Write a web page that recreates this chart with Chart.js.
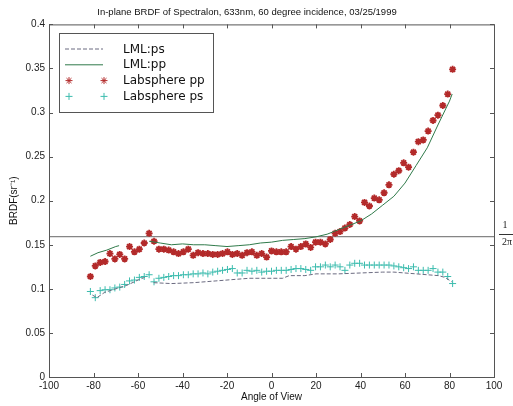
<!DOCTYPE html>
<html>
<head>
<meta charset="utf-8">
<script src="https://cdn.jsdelivr.net/npm/chart.js@4"></script>
<style>
  html, body { margin: 0; padding: 0; background: #fff; }
</style>
</head>
<body>
<canvas id="brdf" width="513" height="406"></canvas>
<script>
// view angles of the Labsphere measurements (deg)
const angles = [-81.4, -79.2, -77.0, -74.8, -72.6, -70.4, -68.2, -66.0, -63.8, -61.6,
    -59.4, -57.2, -55.0, -52.8, -50.6, -48.4, -46.2, -44.0, -41.8, -39.6,
    -37.4, -35.2, -33.0, -30.8, -28.6, -26.4, -24.2, -22.0, -19.8, -17.6,
    -15.4, -13.2, -11.0, -8.8, -6.6, -4.4, -2.2, 0, 2.2, 4.4,
    6.6, 8.8, 11.0, 13.2, 15.4, 17.6, 19.8, 22.0, 24.2, 26.4,
    28.6, 30.8, 33.0, 35.2, 37.4, 39.6, 41.8, 44.0, 46.2, 48.4,
    50.6, 52.8, 55.0, 57.2, 59.4, 61.6, 63.8, 66.0, 68.2, 70.4,
    72.6, 74.8, 77.0, 79.2, 81.4];

const labspherePP = [0.114, 0.126, 0.130, 0.131, 0.140, 0.134, 0.139, 0.134, 0.148, 0.142,
    0.145, 0.152, 0.163, 0.154, 0.145, 0.145, 0.144, 0.142, 0.140, 0.142,
    0.145, 0.138, 0.141, 0.140, 0.140, 0.139, 0.139, 0.140, 0.142, 0.139,
    0.140, 0.138, 0.141, 0.142, 0.138, 0.140, 0.136, 0.143, 0.142, 0.142,
    0.142, 0.148, 0.145, 0.148, 0.151, 0.147, 0.153, 0.153, 0.151, 0.156,
    0.163, 0.165, 0.169, 0.173, 0.182, 0.177, 0.198, 0.194, 0.203, 0.201,
    0.209, 0.218, 0.230, 0.234, 0.243, 0.238, 0.255, 0.267, 0.269, 0.279,
    0.291, 0.297, 0.308, 0.321, 0.349];

const labspherePS = [0.097, 0.090, 0.098, 0.099, 0.099, 0.101, 0.102, 0.105, 0.109, 0.110,
    0.113, 0.114, 0.116, 0.108, 0.112, 0.113, 0.114, 0.115, 0.115, 0.116,
    0.116, 0.117, 0.117, 0.118, 0.117, 0.119, 0.120, 0.121, 0.122, 0.123,
    0.118, 0.118, 0.121, 0.120, 0.121, 0.119, 0.120, 0.120, 0.121, 0.121,
    0.121, 0.122, 0.123, 0.123, 0.122, 0.121, 0.125, 0.125, 0.127, 0.125,
    0.127, 0.125, 0.121, 0.127, 0.129, 0.129, 0.127, 0.127, 0.127, 0.127,
    0.127, 0.127, 0.126, 0.125, 0.124, 0.123, 0.125, 0.121, 0.121, 0.121,
    0.123, 0.119, 0.119, 0.114, 0.106];

// LML model curves (null = gap in the curve)
const lmlPpAngles = [-81.4, -78, -74, -70, -68.5, -62, -55, -50, -45, -40, -35, -30, -25, -20,
    -15, -10, -5, 0, 5, 10, 15, 20, 25, 30, 35, 40, 45, 50, 55, 60, 65, 70, 75, 80, 81.2];
const lmlPpValues = [0.137, 0.141, 0.144, 0.148, 0.149, null, 0.154, 0.152, 0.150, 0.151, 0.150, 0.150, 0.149, 0.148,
    0.149, 0.150, 0.152, 0.153, 0.155, 0.156, 0.157, 0.159, 0.162, 0.167, 0.172, 0.177, 0.185, 0.195, 0.205, 0.220, 0.240, 0.260, 0.287, 0.313, 0.321];

const lmlPsAngles = [-80.5, -78.5, -75, -70, -65, -60, -57, -55, -53, -45, -35, -25, -20, -10,
    0, 5, 8, 15, 20, 30, 40, 50, 55, 60, 65, 70, 75, 78, 81];
const lmlPsValues = [0.093, 0.090, 0.096, 0.100, 0.104, 0.110, 0.113, null, 0.107, 0.106, 0.107, 0.109, 0.110, 0.112,
    0.112, 0.112, 0.115, 0.115, 0.117, 0.117, 0.118, 0.119, 0.119, 0.118, 0.117, 0.116, 0.115, 0.113, 0.108];

const lambertLevel = 1 / (2 * Math.PI);   // ideal Lambertian BRDF

const xTicks = [-100, -80, -60, -40, -20, 0, 20, 40, 60, 80, 100];
const yTicks = [0, 0.05, 0.1, 0.15, 0.2, 0.25, 0.3, 0.35, 0.4];
const yTickLabels = ['0', '0.05', '0.1', '0.15', '0.2', '0.25', '0.3', '0.35', '0.4'];


function toPoints(xs, ys) {
    return xs.map(function (x, i) {
        return { x: x, y: ys[i] };
    });
}


/* matlab style frame: box, inward ticks, legend box and 1/2pi label */
const matlabFrame = {
    id: 'matlabFrame',
    afterDraw(chart) {
        const ctx = chart.ctx;
        const area = chart.chartArea;
        const xs = chart.scales.x;
        const ys = chart.scales.y;

        ctx.save();
        ctx.strokeStyle = '#555';
        ctx.lineWidth = 1;
        ctx.strokeRect(area.left + 0.5, area.top + 0.5, area.right - area.left, area.bottom - area.top);

        ctx.beginPath();
        xTicks.forEach(function (v) {
            let px = Math.round(xs.getPixelForValue(v)) + 0.5;
            ctx.moveTo(px, area.bottom);
            ctx.lineTo(px, area.bottom - 4);
            ctx.moveTo(px, area.top);
            ctx.lineTo(px, area.top + 4);
        });
        yTicks.forEach(function (v) {
            let py = Math.round(ys.getPixelForValue(v)) + 0.5;
            ctx.moveTo(area.left, py);
            ctx.lineTo(area.left + 4, py);
            ctx.moveTo(area.right, py);
            ctx.lineTo(area.right - 4, py);
        });
        ctx.stroke();

        // legend
        const lx = 59.5, ly = 33.5, lw = 154, lh = 79;
        ctx.fillStyle = '#fff';
        ctx.fillRect(lx, ly, lw, lh);
        ctx.strokeStyle = '#555';
        ctx.strokeRect(lx, ly, lw, lh);

        ctx.font = '12px "DejaVu Sans"';
        ctx.textBaseline = 'middle';
        chart.data.datasets.forEach(function (ds, i) {
            if (ds.hideInLegend) return;
            let rowY = 49 + i * 15.8;
            ctx.save();
            if (ds.showLine) {
                ctx.strokeStyle = ds.borderColor;
                ctx.lineWidth = ds.borderWidth;
                ctx.setLineDash(ds.borderDash || []);
                ctx.beginPath();
                ctx.moveTo(65, rowY);
                ctx.lineTo(103, rowY);
                ctx.stroke();
            } else {
                ctx.strokeStyle = ds.pointBorderColor;
                let opts = { pointStyle: ds.pointStyle, radius: ds.pointRadius, borderWidth: ds.pointBorderWidth, rotation: 0 };
                Chart.helpers.drawPoint(ctx, opts, 69, rowY);
                Chart.helpers.drawPoint(ctx, opts, 104, rowY);
            }
            ctx.restore();
            ctx.fillStyle = '#111';
            ctx.fillText(ds.label, 123, rowY + 0.5);
        });

        // 1 / 2pi label right of the axes
        let hy = ys.getPixelForValue(lambertLevel);
        ctx.fillStyle = '#222';
        ctx.font = '10px "Liberation Serif"';
        ctx.textAlign = 'center';
        ctx.fillText('1', 505, hy - 11);
        ctx.fillText('2\u03C0', 507, hy + 6);
        ctx.strokeStyle = '#333';
        ctx.beginPath();
        ctx.moveTo(499, Math.round(hy) - 2.5);
        ctx.lineTo(513, Math.round(hy) - 2.5);
        ctx.stroke();
        ctx.restore();
    }
};


const chart = new Chart(document.getElementById('brdf'), {
    type: 'scatter',
    data: {
        datasets: [{
            label: 'LML:ps',
            data: toPoints(lmlPsAngles, lmlPsValues),
            showLine: true,
            spanGaps: false,
            borderColor: '#6b6b80',
            borderWidth: 1,
            borderDash: [4, 2],
            pointRadius: 0
        }, {
            label: 'LML:pp',
            data: toPoints(lmlPpAngles, lmlPpValues),
            showLine: true,
            spanGaps: false,
            borderColor: '#2f7a4a',
            borderWidth: 1,
            pointRadius: 0
        }, {
            label: 'Labsphere pp',
            data: toPoints(angles, labspherePP),
            showLine: false,
            pointStyle: 'star',
            pointRadius: 3.5,
            pointBorderWidth: 1.8,
            pointBorderColor: '#b32a2a',
            pointBackgroundColor: '#b32a2a'
        }, {
            label: 'Labsphere ps',
            data: toPoints(angles, labspherePS),
            showLine: false,
            pointStyle: 'cross',
            pointRadius: 3.5,
            pointBorderWidth: 1,
            pointBorderColor: '#3cbcae',
            pointBackgroundColor: '#3cbcae'
        }, {
            label: '1/2pi',
            hideInLegend: true,
            data: [{ x: -100, y: lambertLevel }, { x: 100, y: lambertLevel }],
            showLine: true,
            borderColor: '#666',
            borderWidth: 1,
            pointRadius: 0
        }]
    },
    options: {
        responsive: false,
        animation: false,
        devicePixelRatio: 1,
        layout: { padding: { left: 0, right: 19, top: 0, bottom: 0 } },
        plugins: {
            legend: { display: false },
            tooltip: { enabled: false },
            title: {
                display: true,
                text: 'In-plane BRDF of Spectralon, 633nm, 60 degree incidence, 03/25/1999',
                color: '#111',
                font: { family: '"Liberation Sans"', size: 9.5, weight: 'normal' },
                padding: { top: 7, bottom: 6 }
            }
        },
        scales: {
            x: {
                type: 'linear',
                min: -100,
                max: 100,
                afterBuildTicks: function (scale) {
                    scale.ticks = xTicks.map(function (v) { return { value: v }; });
                },
                afterFit: function (scale) { scale.height = 29; },
                grid: { display: false, drawTicks: false, tickLength: 0 },
                border: { display: false },
                ticks: {
                    padding: 3,
                    color: '#222',
                    maxRotation: 0,
                    font: { family: '"Liberation Sans"', size: 10 },
                    callback: function (v) { return String(v); }
                },
                title: {
                    display: true,
                    text: 'Angle of View',
                    color: '#111',
                    padding: { top: 0, bottom: 3 },
                    font: { family: '"Liberation Sans"', size: 10 }
                }
            },
            y: {
                type: 'linear',
                min: 0,
                max: 0.4,
                afterBuildTicks: function (scale) {
                    scale.ticks = yTicks.map(function (v) { return { value: v }; });
                },
                afterFit: function (scale) { scale.width = 49; },
                grid: { display: false, drawTicks: false, tickLength: 0 },
                border: { display: false },
                ticks: {
                    padding: 4,
                    color: '#222',
                    font: { family: '"Liberation Sans"', size: 10 },
                    callback: function (v) {
                        let i = yTicks.indexOf(v);
                        return i >= 0 ? yTickLabels[i] : '';
                    }
                },
                title: {
                    display: true,
                    text: 'BRDF(sr\u207B\u00B9)',
                    color: '#111',
                    padding: { top: 8, bottom: 0 },
                    font: { family: '"Liberation Sans"', size: 10 }
                }
            }
        }
    },
    plugins: [matlabFrame]
});
</script>
</body>
</html>
